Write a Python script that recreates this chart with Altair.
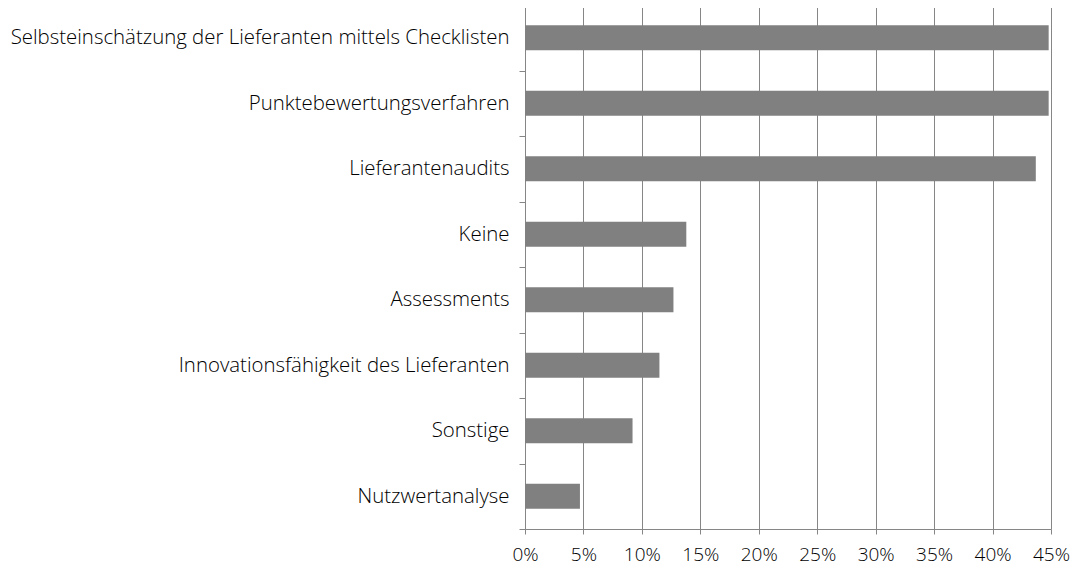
import altair as alt
import pandas as pd

categories = [
    "Selbsteinschätzung der Lieferanten mittels Checklisten",
    "Punktebewertungsverfahren",
    "Lieferantenaudits",
    "Keine",
    "Assessments",
    "Innovationsfähigkeit des Lieferanten",
    "Sonstige",
    "Nutzwertanalyse",
]
values = [0.448, 0.448, 0.437, 0.138, 0.127, 0.115, 0.092, 0.047]
x_ticks = [0, 0.05, 0.10, 0.15, 0.20, 0.25, 0.30, 0.35, 0.40, 0.45]

df = pd.DataFrame({"Kategorie": categories, "Anteil": values})

FONT = "Open Sans"
GRAY = "#868686"
TEXT = "#000000"

chart = (
    alt.Chart(df)
    .mark_bar(size=25, color="#808080")
    .encode(
        y=alt.Y(
            "Kategorie:N",
            sort=categories,
            title=None,
            scale=alt.Scale(paddingInner=0, paddingOuter=0),
            axis=alt.Axis(
                tickBand="extent",
                ticks=True,
                tickSize=6,
                tickColor=GRAY,
                domainColor=GRAY,
                grid=False,
                labelFontSize=20.4,
                labelFont=FONT,
                labelFontWeight=300,
                labelColor=TEXT,
                labelLimit=700,
                labelPadding=10,
            ),
        ),
        x=alt.X(
            "Anteil:Q",
            title=None,
            scale=alt.Scale(domain=[0, 0.45], nice=False),
            axis=alt.Axis(
                values=x_ticks,
                format=".0%",
                grid=True,
                gridColor=GRAY,
                gridOpacity=1,
                tickColor=GRAY,
                tickSize=5,
                domainColor=GRAY,
                labelFontSize=19,
                labelFont=FONT,
                labelFontWeight=300,
                labelColor=TEXT,
                labelPadding=11,
                labelOverlap=False,
                labelFlush=False,
            ),
        ),
    )
    .properties(width=526, height=524, padding={"left": 2, "top": -13, "right": 0, "bottom": 0})
    .configure_view(stroke=None)
)

chart.save("out.html", embed_options={"renderer": "svg", "actions": False})
